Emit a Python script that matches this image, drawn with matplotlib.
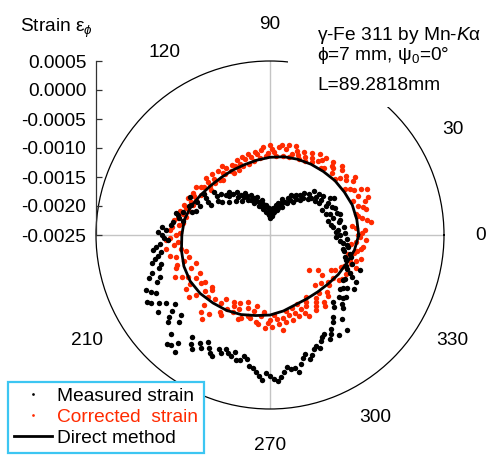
import numpy as np
import matplotlib
matplotlib.use("Agg")
import matplotlib.pyplot as plt
from matplotlib.patches import Rectangle

plt.rcParams['font.family'] = ['Liberation Sans', 'DejaVu Sans']
plt.rcParams['mathtext.fontset'] = 'custom'
plt.rcParams['mathtext.rm'] = 'Liberation Sans'
plt.rcParams['mathtext.it'] = 'Liberation Sans:italic'
plt.rcParams['mathtext.bf'] = 'Liberation Sans:bold'

# ---------------- data ----------------
angle_deg_a = [3 * k for k in range(120)]          # 0, 3, ..., 357
angle_deg_b = [3 * k + 1.5 for k in range(120)]    # 1.5, 4.5, ..., 358.5

measured_strain_a = [
    -0.00129, -0.00136, -0.00122, -0.00143, -0.00126, -0.00138, -0.00129, -0.00147, -0.00133, -0.00141,
    -0.00122, -0.00150, -0.00136, -0.00147, -0.00155, -0.00143, -0.00164, -0.00157, -0.00174, -0.00167,
    -0.00181, -0.00172, -0.00188, -0.00195, -0.00184, -0.00205, -0.00198, -0.00212, -0.00203, -0.00217,
    -0.00209, -0.00216, -0.00202, -0.00209, -0.00195, -0.00203, -0.00190, -0.00197, -0.00181, -0.00188,
    -0.00172, -0.00179, -0.00164, -0.00174, -0.00155, -0.00167, -0.00147, -0.00159, -0.00136, -0.00143,
    -0.00122, -0.00136, -0.00112, -0.00105, -0.00116, -0.00095, -0.00088, -0.00098, -0.00078, -0.00071,
    -0.00064, -0.00074, -0.00052, -0.00060, -0.00047, -0.00055, -0.00036, -0.00047, -0.00016, -0.00029,
    -0.00014, -0.00036, -0.00047, -0.00026, -0.00043, -0.00009, 0.00005, 0.00009, -0.00017, -0.00028,
    -0.00036, -0.00022, -0.00034, -0.00040, -0.00031, -0.00026, -0.00036, -0.00022, -0.00012, 0.00000,
    -0.00007, 0.00002, -0.00012, -0.00016, -0.00009, -0.00031, -0.00026, -0.00040, -0.00036, -0.00052,
    -0.00043, -0.00057, -0.00064, -0.00040, -0.00084, -0.00071, -0.00090, -0.00081, -0.00095, -0.00078,
    -0.00100, -0.00091, -0.00105, -0.00083, -0.00112, -0.00105, -0.00119, -0.00114, -0.00124, -0.00117,
]

measured_strain_b = [
    -0.00121, -0.00133, -0.00140, -0.00129, -0.00147, -0.00124, -0.00141, -0.00128, -0.00150, -0.00136,
    -0.00129, -0.00143, -0.00153, -0.00140, -0.00160, -0.00152, -0.00171, -0.00164, -0.00181, -0.00171,
    -0.00188, -0.00179, -0.00198, -0.00190, -0.00202, -0.00193, -0.00209, -0.00217, -0.00207, -0.00221,
    -0.00203, -0.00212, -0.00197, -0.00200, -0.00188, -0.00197, -0.00181, -0.00186, -0.00174, -0.00181,
    -0.00166, -0.00171, -0.00157, -0.00164, -0.00147, -0.00153, -0.00140, -0.00129, -0.00150, -0.00116,
    -0.00129, -0.00098, -0.00119, -0.00102, -0.00109, -0.00084, -0.00091, -0.00081, -0.00064, -0.00057,
    -0.00067, -0.00060, -0.00047, -0.00053, -0.00040, -0.00050, -0.00029, -0.00040, -0.00022, -0.00009,
    -0.00026, -0.00016, -0.00036, -0.00019, -0.00033, 0.00009, -0.00005, -0.00029, -0.00012, -0.00022,
    -0.00029, -0.00019, -0.00029, -0.00034, -0.00040, -0.00029, -0.00033, -0.00019, -0.00007, -0.00012,
    -0.00002, -0.00005, -0.00021, -0.00016, -0.00022, -0.00036, -0.00031, -0.00043, -0.00047, -0.00055,
    -0.00050, -0.00040, -0.00071, -0.00060, -0.00091, -0.00078, -0.00084, -0.00098, -0.00088, -0.00103,
    -0.00081, -0.00097, -0.00109, -0.00100, -0.00116, -0.00109, -0.00122, -0.00116, -0.00129, -0.00136,
]

corrected_strain_a = [
    -0.00098, -0.00086, -0.00107, -0.00081, -0.00095, -0.00078, -0.00090, -0.00069, -0.00084, -0.00074,
    -0.00091, -0.00079, -0.00088, -0.00095, -0.00083, -0.00098, -0.00090, -0.00102, -0.00086, -0.00098,
    -0.00105, -0.00091, -0.00102, -0.00110, -0.00097, -0.00105, -0.00091, -0.00112, -0.00098, -0.00107,
    -0.00095, -0.00114, -0.00102, -0.00109, -0.00119, -0.00105, -0.00112, -0.00122, -0.00109, -0.00116,
    -0.00126, -0.00112, -0.00119, -0.00107, -0.00122, -0.00114, -0.00102, -0.00117, -0.00109, -0.00098,
    -0.00112, -0.00103, -0.00095, -0.00107, -0.00098, -0.00090, -0.00102, -0.00083, -0.00093, -0.00078,
    -0.00088, -0.00071, -0.00084, -0.00095, -0.00074, -0.00105, -0.00081, -0.00114, -0.00071, -0.00091,
    -0.00102, -0.00078, -0.00112, -0.00086, -0.00116, -0.00098, -0.00071, -0.00064, -0.00105, -0.00091,
    -0.00102, -0.00112, -0.00122, -0.00095, -0.00129, -0.00105, -0.00116, -0.00098, -0.00109, -0.00090,
    -0.00103, -0.00112, -0.00095, -0.00105, -0.00116, -0.00098, -0.00109, -0.00122, -0.00102, -0.00112,
    -0.00126, -0.00105, -0.00116, -0.00102, -0.00133, -0.00112, -0.00160, -0.00122, -0.00147, -0.00109,
    -0.00129, -0.00102, -0.00116, -0.00091, -0.00105, -0.00088, -0.00102, -0.00091, -0.00109, -0.00084,
]

corrected_strain_b = [
    -0.00091, -0.00102, -0.00074, -0.00088, -0.00098, -0.00083, -0.00076, -0.00095, -0.00064, -0.00086,
    -0.00098, -0.00072, -0.00084, -0.00102, -0.00078, -0.00091, -0.00084, -0.00105, -0.00093, -0.00086,
    -0.00098, -0.00109, -0.00095, -0.00103, -0.00090, -0.00112, -0.00100, -0.00093, -0.00114, -0.00102,
    -0.00109, -0.00098, -0.00116, -0.00105, -0.00112, -0.00122, -0.00107, -0.00117, -0.00126, -0.00112,
    -0.00121, -0.00105, -0.00116, -0.00126, -0.00105, -0.00119, -0.00109, -0.00122, -0.00105, -0.00116,
    -0.00098, -0.00109, -0.00102, -0.00093, -0.00105, -0.00095, -0.00088, -0.00098, -0.00081, -0.00095,
    -0.00078, -0.00091, -0.00069, -0.00102, -0.00084, -0.00095, -0.00078, -0.00102, -0.00081, -0.00112,
    -0.00088, -0.00105, -0.00074, -0.00102, -0.00112, -0.00084, -0.00105, -0.00078, -0.00116, -0.00088,
    -0.00119, -0.00102, -0.00112, -0.00098, -0.00119, -0.00102, -0.00126, -0.00095, -0.00116, -0.00098,
    -0.00091, -0.00105, -0.00084, -0.00098, -0.00109, -0.00119, -0.00102, -0.00112, -0.00095, -0.00119,
    -0.00098, -0.00109, -0.00095, -0.00119, -0.00105, -0.00129, -0.00116, -0.00136, -0.00119, -0.00105,
    -0.00122, -0.00098, -0.00112, -0.00102, -0.00095, -0.00112, -0.00098, -0.00088, -0.00102, -0.00095,
]

direct_angle_deg = list(range(0, 361, 10))
direct_strain = [
    -0.00097, -0.00098, -0.00099, -0.00102, -0.00104, -0.00107, -0.00109, -0.00111, -0.00113, -0.00116,
    -0.00119, -0.00121, -0.00121, -0.00120, -0.00117, -0.00112, -0.00105, -0.00100, -0.00098, -0.00095,
    -0.00092, -0.00091, -0.00093, -0.00097, -0.00100, -0.00104, -0.00109, -0.00112, -0.00117, -0.00122,
    -0.00123, -0.00122, -0.00119, -0.00114, -0.00109, -0.00102, -0.00097,
]

r_ticks = [-0.0025, -0.0020, -0.0015, -0.0010, -0.0005, 0.0000, 0.0005]
r_tick_labels = ["-0.0025", "-0.0020", "-0.0015", "-0.0010", "-0.0005", "0.0000", "0.0005"]
theta_label_deg = [0, 30, 90, 120, 210, 270, 300, 330]
theta_labels = ["0", "30", "90", "120", "210", "270", "300", "330"]
cross_deg = [0, 90, 180, 270]

RED = '#ff2a00'
FS = 13.8

# ---------------- figure ----------------
W, H = 488, 458
fig = plt.figure(figsize=(W / 100, H / 100), dpi=100)

cx, cy, R = 270, 235, 174
ax = fig.add_axes([(cx - R) / W, (H - cy - R) / H, 2 * R / W, 2 * R / H], projection='polar')
ax.set_ylim(r_ticks[0], r_ticks[-1])
ax.grid(False)
ax.set_yticks([])
ax.spines['polar'].set_linewidth(0.9)
ax.spines['polar'].set_color('black')

for d in cross_deg:
    ax.plot([np.deg2rad(d)] * 2, [r_ticks[0], r_ticks[-1]], color='#c4c4c4', lw=1.0, zorder=0)

ax.set_xticks(np.deg2rad(theta_label_deg))
ax.set_xticklabels(theta_labels, fontsize=FS)
ax.tick_params(axis='x', length=0, pad=19.5)

th_all = np.deg2rad(angle_deg_a + angle_deg_b)
meas_all = measured_strain_a + measured_strain_b
corr_all = corrected_strain_a + corrected_strain_b

h_corr, = ax.plot(th_all, corr_all, 'o', color=RED, ms=3.9, mew=0, zorder=2)
h_dir, = ax.plot(np.deg2rad(direct_angle_deg), direct_strain, '-', color='black', lw=2.0, zorder=3)
h_meas, = ax.plot(th_all, meas_all, 'o', color='black', ms=3.9, mew=0, zorder=4)

# radial axis on the left
rax = fig.add_axes([(cx - R) / W, (H - cy) / H, 0.0001, R / H])
rax.set_ylim(r_ticks[0], r_ticks[-1])
rax.set_yticks(r_ticks)
rax.set_yticklabels(r_tick_labels, fontsize=FS)
rax.set_xticks([])
for s in ['top', 'right', 'bottom']:
    rax.spines[s].set_visible(False)
rax.spines['left'].set_color('#333333')
rax.spines['left'].set_linewidth(0.9)
rax.tick_params(axis='y', direction='in', length=4, width=0.9, pad=7, colors='#333333',
                labelcolor='black')
rax.patch.set_visible(False)

fig.text(20 / W, 1 - 31.5 / H, r'Strain ε$_{\phi}$', fontsize=FS, va='baseline', ha='left')

# annotation block (white background hides part of the outer circle)
fig.add_artist(Rectangle((288 / W, 1 - 107 / H), 1 - 288 / W, 107 / H,
                         transform=fig.transFigure, facecolor='white', edgecolor='none', zorder=5))
tx = 317 / W
fig.text(tx, 1 - 39.5 / H, r'γ-Fe 311 by Mn-$\mathit{K}$α', fontsize=FS, va='baseline', zorder=6)
fig.text(tx, 1 - 59.5 / H, r'ϕ=7 mm, ψ$_0$=0°', fontsize=FS, va='baseline', zorder=6)
fig.text(tx, 1 - 89.5 / H, 'L=89.2818mm', fontsize=FS, va='baseline', zorder=6)

leg = fig.legend([h_meas, h_corr, h_dir], ['Measured strain', 'Corrected  strain', 'Direct method'],
                 loc='upper left', bbox_to_anchor=(8 / W, 1 - 382 / H), bbox_transform=fig.transFigure,
                 borderaxespad=0, fontsize=FS, fancybox=False, framealpha=1, edgecolor='#3cc6f2',
                 markerscale=0.5, handlelength=2.0, handletextpad=0.25, labelspacing=0.18,
                 borderpad=0.3)
leg.get_frame().set_linewidth(1.6)
leg.get_texts()[1].set_color(RED)
leg.set_zorder(7)

fig.savefig('out.png', dpi=100)
